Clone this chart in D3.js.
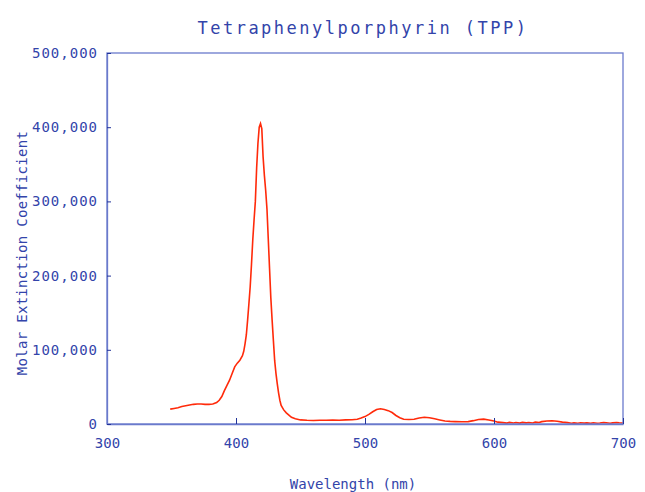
<!DOCTYPE html>
<html>
<head>
<meta charset="utf-8">
<script src="https://cdn.jsdelivr.net/npm/d3@7"></script>
<style>
  html, body { margin: 0; padding: 0; background: #fff; }
  svg { display: block; }
  text { font-family: "DejaVu Sans Mono", "Liberation Mono", monospace; fill: #3344aa; }
</style>
</head>
<body>
<script>
const titleText = "Tetraphenylporphyrin (TPP)";
const xLabel = "Wavelength (nm)";
const yLabel = "Molar Extinction Coefficient";
const xTicks = [300, 400, 500, 600, 700];
const yTicks = [0, 100000, 200000, 300000, 400000, 500000];

const wavelength = [349,352,355,358,361,364,367,370,373,376,379,382,385,387,389,391,393,395,397,399,401,403,405,406,407,408,409,410,411,412,413,414,415,416,417,418,419,420,421,422,423,424,425,426,427,428,429,430,431,432,433,434,435,437,439,441,443,446,450,455,460,465,470,475,480,485,490,494,497,500,503,506,509,512,515,518,521,524,527,530,534,538,542,546,550,554,558,562,566,570,575,580,584,588,592,596,600,603,607,610,612,615,617,620,622,625,627,630,632,635,637,641,645,649,653,657,660,662,665,667,670,672,675,677,680,682,685,687,690,692,695,697,700];
const extinction = [20000,21000,22000,23500,24500,25500,26500,27000,27000,26500,26500,27000,29000,32000,37000,45000,52000,59000,68000,77000,82000,86000,92000,98000,108000,120000,140000,162000,185000,215000,248000,275000,300000,345000,378000,400000,405000,398000,360000,335000,315000,290000,250000,210000,170000,140000,112000,85000,68000,54000,42000,32000,25000,19000,15000,12000,9000,7000,5500,5000,4800,5000,5000,5200,5000,5500,5800,6500,8000,10000,13000,16500,19500,20500,19500,18000,15500,11500,8500,6500,6000,6500,8000,9000,8500,7000,5500,4000,3500,3200,3000,3200,4500,6000,6500,5500,4000,2500,1800,1200,2200,1400,2000,1200,2200,1500,2000,1300,2500,2000,3200,4000,4300,3800,2500,1800,1100,1500,1000,1700,1200,1500,900,1600,1100,1400,2000,1700,1000,1500,2100,1600,1400];

const W = 645, H = 492;
const m = { left: 107, right: 22, top: 53, bottom: 68 };
const svg = d3.select("body").append("svg").attr("width", W).attr("height", H);

const x = d3.scaleLinear().domain([300, 700]).range([m.left, W - m.right]);
const y = d3.scaleLinear().domain([0, 500000]).range([H - m.bottom, m.top]);

// line
const data = wavelength.map((w, i) => [w, extinction[i]]);
svg.append("path")
  .datum(data)
  .attr("fill", "none")
  .attr("stroke", "#ff2a0a")
  .attr("stroke-width", 1.6)
  .attr("d", d3.line().x(d => x(d[0])).y(d => y(d[1])));

// frame
svg.append("rect")
  .attr("x", x(300)).attr("y", y(500000))
  .attr("width", x(700) - x(300)).attr("height", y(0) - y(500000))
  .attr("fill", "none").attr("stroke", "#6a7acc").attr("stroke-width", 1.3);

// x axis
const xAxis = svg.append("g").attr("transform", `translate(0,${y(0)})`)
  .call(d3.axisBottom(x).tickValues(xTicks).tickSizeInner(-6).tickSizeOuter(0).tickPadding(14).tickFormat(d3.format("d")));
xAxis.select(".domain").attr("stroke", "#6a7acc").attr("stroke-width", 1.3);
xAxis.selectAll(".tick line").attr("stroke", "#223399");
xAxis.selectAll(".tick text").style("font-size", "14px").attr("fill", "#3344aa")
  .style("font-family", '"DejaVu Sans Mono", monospace');

// y axis
const yAxis = svg.append("g").attr("transform", `translate(${x(300)},0)`)
  .call(d3.axisLeft(y).tickValues(yTicks).tickSizeInner(-4).tickSizeOuter(0).tickPadding(9).tickFormat(d3.format(",")));
yAxis.select(".domain").attr("stroke", "#6a7acc").attr("stroke-width", 1.3);
yAxis.selectAll(".tick line").attr("stroke", "#223399");
yAxis.selectAll(".tick text").style("font-size", "14px").attr("fill", "#3344aa")
  .style("letter-spacing", "1px")
  .style("font-family", '"DejaVu Sans Mono", monospace');

// title
svg.append("text")
  .attr("x", 363).attr("y", 34)
  .attr("text-anchor", "middle")
  .style("font-size", "17px").style("letter-spacing", "2.5px")
  .text(titleText);

// x label
svg.append("text")
  .attr("x", 353).attr("y", 489)
  .attr("text-anchor", "middle")
  .style("font-size", "14px")
  .text(xLabel);

// y label
svg.append("text")
  .attr("transform", `translate(27,253) rotate(-90)`)
  .attr("text-anchor", "middle")
  .style("font-size", "14px").style("letter-spacing", "0.3px")
  .text(yLabel);
</script>
</body>
</html>
